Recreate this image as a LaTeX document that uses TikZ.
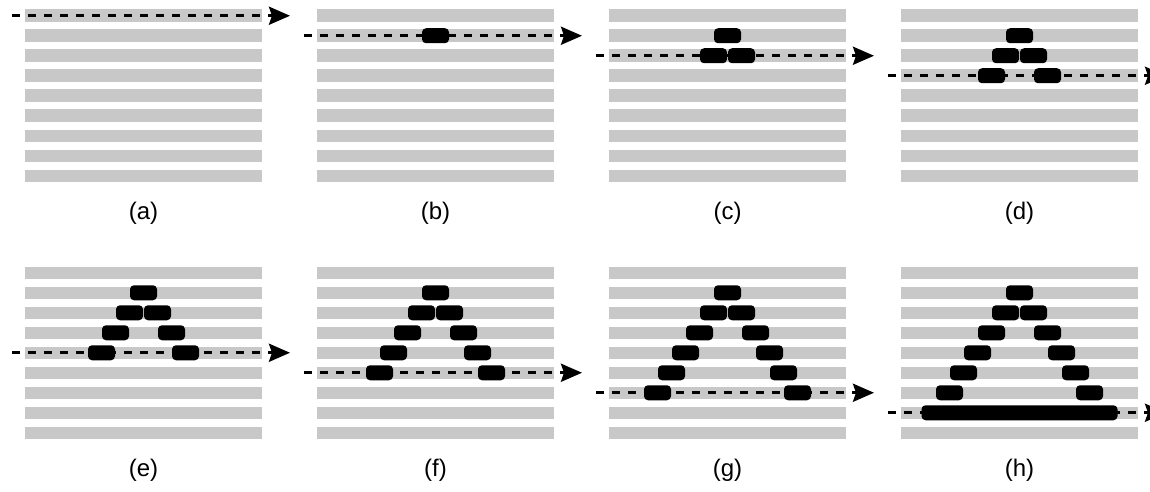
\documentclass[tikz,border=0pt]{standalone}
\usepackage{fontspec}
\setmainfont{Liberation Sans}
\usetikzlibrary{arrows.meta}
\definecolor{stripegray}{RGB}{200,200,200}

\begin{document}
\begin{tikzpicture}[x=1pt,y=-1pt,
  dot/.style={fill=black, rounded corners=4pt},
  scan/.style={dash pattern=on 8pt off 8pt, line width=3pt,
    -{Stealth[length=21pt,width=18pt,inset=3pt]}}]
\useasboundingbox (0,0) rectangle (1150,492);
\foreach \n/\lbl in {0/a,1/b,2/c,3/d,4/e,5/f,6/g,7/h} {
  \pgfmathsetmacro\px{25+292*mod(\n,4)}
  \pgfmathsetmacro\py{9.5+257*int(\n/4)}
  \pgfmathsetmacro\cx{\px+118.5}
  % nine stripes
  \foreach \i in {0,...,8}
    \fill[stripegray] (\px,\py+20*\i) rectangle ++(237,12.5);
  % dots piled up so far
  \ifnum\n>0
    \pgfmathtruncatemacro\rows{min(\n,6)}
    \foreach \k in {1,...,\rows} {
      \pgfmathsetmacro\dy{\py+20*\k+6.25}
      \pgfmathsetmacro\dx{14*(\k-1)}
      \ifnum\k=1
        \fill[dot] (\cx-13.5,\dy-7.5) rectangle (\cx+13.5,\dy+7.5);
      \else
        \fill[dot] (\cx-\dx-13.5,\dy-7.5) rectangle (\cx-\dx+13.5,\dy+7.5);
        \fill[dot] (\cx+\dx-13.5,\dy-7.5) rectangle (\cx+\dx+13.5,\dy+7.5);
      \fi
    }
  \fi
  \ifnum\n=7
    \fill[dot] (\cx-98,\py+146.25-7.5) rectangle (\cx+98,\py+146.25+7.5);
  \fi
  % scan line
  \pgfmathsetmacro\sy{\py+20*\n+6.25}
  \coordinate (s\lbl) at (\px-13,\sy);
  \coordinate (e\lbl) at (\px+265,\sy);
  \draw[scan] (s\lbl) -- (e\lbl);
  \node[font=\fontsize{24}{28}\selectfont] (lbl\lbl) at (\cx,\py+203.5) {(\lbl)};
}
\end{tikzpicture}
\end{document}
